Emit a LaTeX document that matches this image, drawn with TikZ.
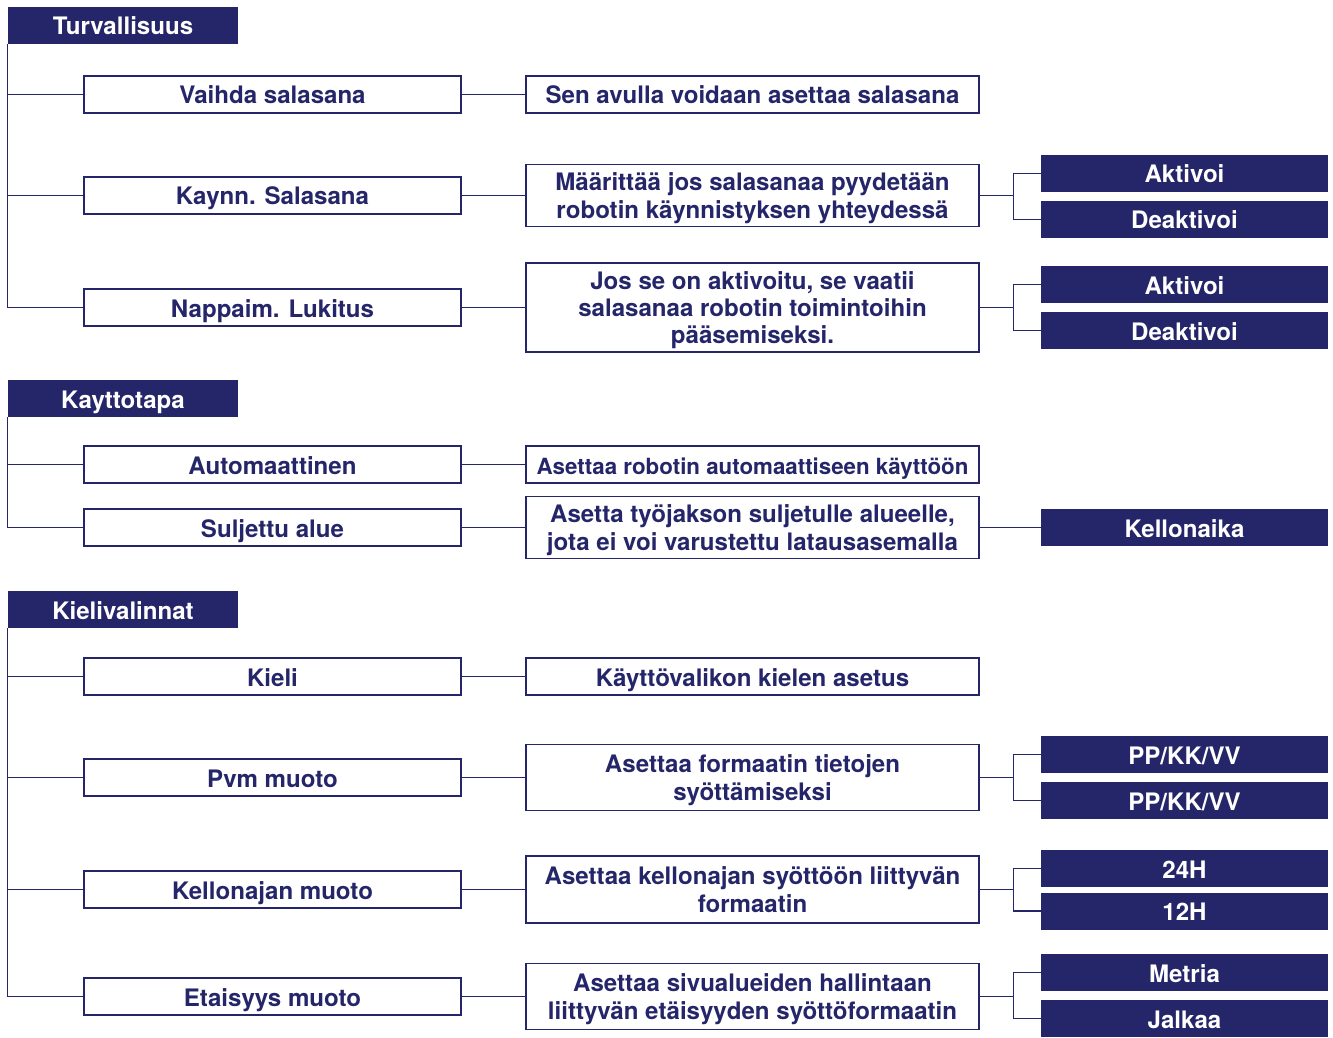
\documentclass[tikz,border=0pt]{standalone}
\usepackage{fontspec}
\setmainfont{TeX Gyre Heros}
\definecolor{navy}{RGB}{37,38,106}

\begin{document}
\begin{tikzpicture}[font=\fontsize{13.7}{15.5}\selectfont\bfseries,
  one/.style={text height=10.8pt,text depth=0pt},
  two/.style={text height=25.8pt,text depth=0pt},
  three/.style={text height=41.3pt,text depth=0pt},
  hdr/.style={one,fill=navy,text=white,minimum width=4.6cm,minimum height=0.74cm,inner sep=0pt},
  item/.style={one,draw=navy,line width=0.7pt,text=navy,fill=white,minimum width=7.54cm,minimum height=0.74cm,inner sep=0pt},
  desc/.style={item,minimum width=9.06cm,align=center},
  opt/.style={hdr,minimum width=5.74cm},
  link/.style={draw=navy,line width=0.6pt}]
\useasboundingbox (0,0) rectangle (26.66,-20.74);
% ================= Turvallisuus =================
\node[hdr] (turv) at (2.46,-0.51) {Turvallisuus};
\node[item] (vaihda) at (5.45,-1.89) {Vaihda salasana};
\node[item] (kaynn) at (5.45,-3.91) {Kaynn. Salasana};
\node[item] (nappa) at (5.45,-6.15) {Nappaim. Lukitus};
\node[desc] (vaihdaD) at (15.05,-1.89) {Sen avulla voidaan asettaa salasana};
\node[desc,two,minimum height=1.24cm] (kaynnD) at (15.05,-3.91) {Määrittää jos salasanaa pyydetään\\robotin käynnistyksen yhteydessä};
\node[desc,three,minimum height=1.78cm] (nappaD) at (15.05,-6.15) {Jos se on aktivoitu, se vaatii\\salasanaa robotin toimintoihin\\pääsemiseksi.};
\node[opt] (kaynnA) at (23.69,-3.47) {Aktivoi};
\node[opt] (kaynnB) at (23.69,-4.39) {Deaktivoi};
\node[opt] (nappaA) at (23.69,-5.69) {Aktivoi};
\node[opt] (nappaB) at (23.69,-6.61) {Deaktivoi};
% trunk and branches
\draw[link] (turv.south west) |- (vaihda.west);
\draw[link] (turv.south west) |- (kaynn.west);
\draw[link] (turv.south west) |- (nappa.west);
\draw[link] (vaihda) -- (vaihdaD);
\draw[link] (kaynn) -- (kaynnD);
\draw[link] (nappa) -- (nappaD);
\draw[link] (kaynnD.east) -- ++(0.68,0) coordinate (kfork);
\draw[link] (kfork) |- (kaynnA.west);
\draw[link] (kfork) |- (kaynnB.west);
\draw[link] (nappaD.east) -- ++(0.68,0) coordinate (nfork);
\draw[link] (nfork) |- (nappaA.west);
\draw[link] (nfork) |- (nappaB.west);
% ================= Kayttotapa =================
\node[hdr] (kayt) at (2.46,-7.97) {Kayttotapa};
\node[item] (auto) at (5.45,-9.29) {Automaattinen};
\node[item] (sulj) at (5.45,-10.55) {Suljettu alue};
\node[desc,font=\fontsize{12.7}{15.5}\selectfont\bfseries] (autoD) at (15.05,-9.29) {Asettaa robotin automaattiseen käyttöön};
\node[desc,two,minimum height=1.24cm] (suljD) at (15.05,-10.55) {Asetta työjakson suljetulle alueelle,\\jota ei voi varustettu latausasemalla};
\node[opt] (suljA) at (23.69,-10.55) {Kellonaika};
\draw[link] (kayt.south west) |- (auto.west);
\draw[link] (kayt.south west) |- (sulj.west);
\draw[link] (auto) -- (autoD);
\draw[link] (sulj) -- (suljD);
\draw[link] (suljD) -- (suljA);
% ================= Kielivalinnat =================
\node[hdr] (kiel) at (2.46,-12.19) {Kielivalinnat};
\node[item] (kieli) at (5.45,-13.53) {Kieli};
\node[item] (pvm) at (5.45,-15.55) {Pvm muoto};
\node[item] (kello) at (5.45,-17.79) {Kellonajan muoto};
\node[item] (etai) at (5.45,-19.93) {Etaisyys muoto};
\node[desc] (kieliD) at (15.05,-13.53) {Käyttövalikon kielen asetus};
\node[desc,two,minimum height=1.32cm] (pvmD) at (15.05,-15.55) {Asettaa formaatin tietojen\\syöttämiseksi};
\node[desc,two,minimum height=1.34cm] (kelloD) at (15.05,-17.79) {Asettaa kellonajan syöttöön liittyvän\\formaatin};
\node[desc,two,minimum height=1.32cm] (etaiD) at (15.05,-19.93) {Asettaa sivualueiden hallintaan\\liittyvän etäisyyden syöttöformaatin};
\node[opt] (pvmA) at (23.69,-15.09) {PP/KK/VV};
\node[opt] (pvmB) at (23.69,-16.01) {PP/KK/VV};
\node[opt] (kelloA) at (23.69,-17.37) {24H};
\node[opt] (kelloB) at (23.69,-18.22) {12H};
\node[opt] (etaiA) at (23.69,-19.45) {Metria};
\node[opt] (etaiB) at (23.69,-20.37) {Jalkaa};
\draw[link] (kiel.south west) |- (kieli.west);
\draw[link] (kiel.south west) |- (pvm.west);
\draw[link] (kiel.south west) |- (kello.west);
\draw[link] (kiel.south west) |- (etai.west);
\draw[link] (kieli) -- (kieliD);
\draw[link] (pvm) -- (pvmD);
\draw[link] (kello) -- (kelloD);
\draw[link] (etai) -- (etaiD);
\draw[link] (pvmD.east) -- ++(0.68,0) coordinate (pfork);
\draw[link] (pfork) |- (pvmA.west);
\draw[link] (pfork) |- (pvmB.west);
\draw[link] (kelloD.east) -- ++(0.68,0) coordinate (cfork);
\draw[link] (cfork) |- (kelloA.west);
\draw[link] (cfork) |- (kelloB.west);
\draw[link] (etaiD.east) -- ++(0.68,0) coordinate (efork);
\draw[link] (efork) |- (etaiA.west);
\draw[link] (efork) |- (etaiB.west);
\end{tikzpicture}
\end{document}
